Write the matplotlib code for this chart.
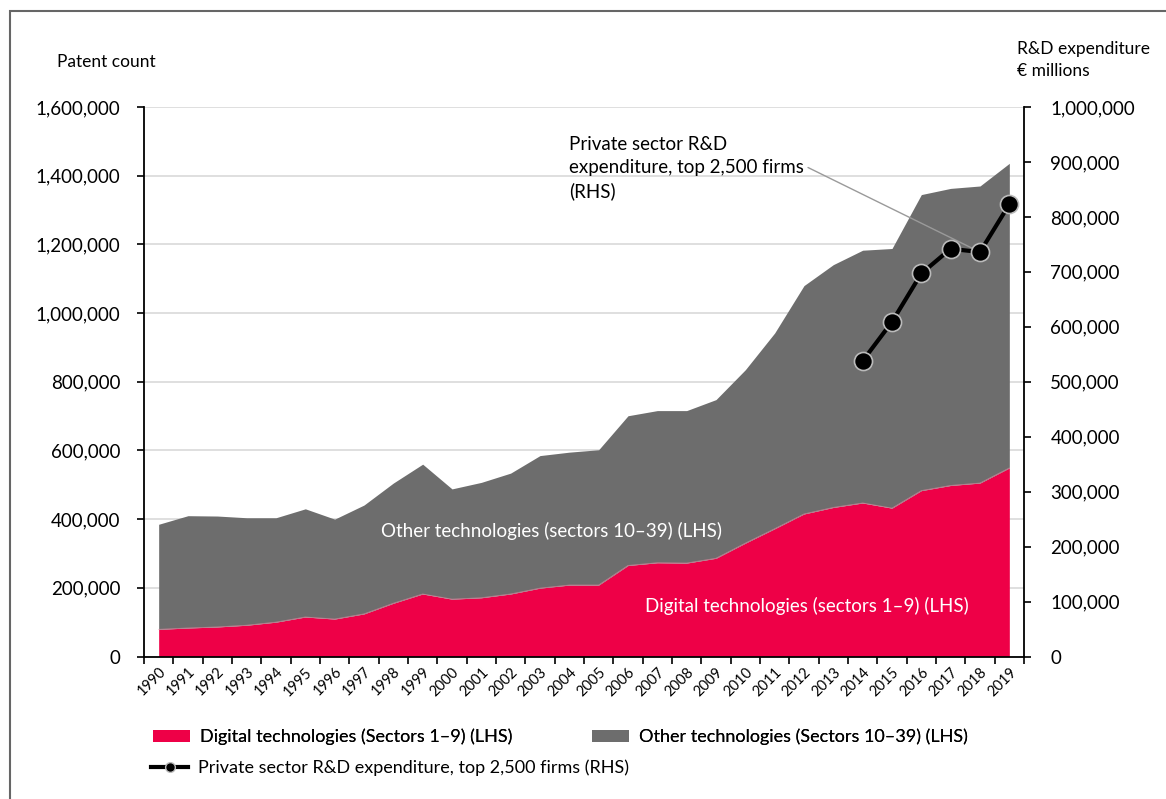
import matplotlib
matplotlib.use("Agg")
import matplotlib.pyplot as plt
from matplotlib.patches import Rectangle, Patch
from matplotlib.lines import Line2D
from matplotlib.ticker import FuncFormatter

plt.rcParams['font.family'] = ['Lato', 'DejaVu Sans']

years = list(range(1990, 2020))
digital = [79000, 83000, 86000, 91000, 100000, 115000, 109000, 124000, 155000, 182000,
           167000, 171000, 182000, 199000, 208000, 208000, 265000, 273000, 272000, 286000,
           330000, 372000, 415000, 434000, 447000, 432000, 483000, 498000, 505000, 549000]
total = [385000, 410000, 409000, 404000, 404000, 430000, 400000, 441000, 505000, 560000,
         488000, 507000, 534000, 585000, 595000, 602000, 701000, 716000, 716000, 748000,
         835000, 942000, 1080000, 1141000, 1183000, 1188000, 1345000, 1363000, 1370000, 1436000]
rd_years = [2014, 2015, 2016, 2017, 2018, 2019]
rd_exp = [538000, 609000, 697000, 742000, 736000, 823000]

RED = '#ee0047'
GREY = '#6d6d6d'

W, H = 1166, 799
fig = plt.figure(figsize=(W / 100, H / 100), dpi=100)
ax = fig.add_axes([144 / W, 1 - 656.5 / H, (1024 - 144) / W, (656.5 - 107) / H])

x = list(range(len(years)))
ax.fill_between(x, 0, digital, color=RED, lw=0, zorder=2)
ax.fill_between(x, digital, total, color=GREY, lw=0, zorder=2)
ax.plot(x, digital, color='#f08aa5', lw=0.6, zorder=3, alpha=0.6)

ax.set_xlim(-0.5, len(years) - 0.5)
ax.set_ylim(0, 1600000)
ax.set_yticks(range(0, 1600001, 200000))
ax.yaxis.set_major_formatter(FuncFormatter(lambda v, p: f"{int(v):,}"))
ax.grid(axis='y', color='#d9d9d9', lw=1.2, zorder=0)
ax.set_axisbelow(True)
ax.set_xticks([i for i in x])
ax.set_xticklabels([str(y) for y in years], rotation=45, ha='right', va='top',
                   rotation_mode='anchor', fontsize=10.5)
ax.set_xticks([i - 0.5 for i in range(len(years) + 1)], minor=True)
ax.tick_params(axis='x', which='major', length=0, pad=6)
ax.tick_params(axis='x', which='minor', length=5, width=1.2, direction='out')
ax.tick_params(axis='y', length=5, width=1.2, direction='out', labelsize=13.5, pad=12)
ax.spines['top'].set_visible(False)
ax.spines['right'].set_visible(False)
ax.spines['left'].set_linewidth(1.3)
ax.spines['bottom'].set_linewidth(1.3)

ax2 = ax.twinx()
ax2.set_ylim(0, 1000000)
ax2.set_yticks(range(0, 1000001, 100000))
ax2.yaxis.set_major_formatter(FuncFormatter(lambda v, p: f"{int(v):,}"))
ax2.tick_params(axis='y', length=5, width=1.2, direction='out', labelsize=13.5, pad=14)
ax2.spines['top'].set_visible(False)
ax2.spines['left'].set_visible(False)
ax2.spines['bottom'].set_visible(False)
ax2.spines['right'].set_linewidth(1.3)
rx = [years.index(y) for y in rd_years]
ax2.plot(rx, rd_exp, color='black', lw=3, marker='o', markersize=13,
         markerfacecolor='black', markeredgecolor='#bbbbbb', markeredgewidth=1.2, zorder=5)

# inner labels
ax.text(13.38, 366000, 'Other technologies (sectors 10\u201339) (LHS)',
        color='white', fontsize=13.5, ha='center', va='center', zorder=4)
ax.text(22.1, 147000, 'Digital technologies (sectors 1\u20139) (LHS)',
        color='white', fontsize=13.5, ha='center', va='center', zorder=4)

# annotation
fig.text(569 / W, 1 - 168 / H, 'Private sector R&D\nexpenditure, top 2,500 firms\n(RHS)',
         fontsize=13.5, ha='left', va='center', linespacing=1.45)
ax2.annotate('', xy=(years.index(2018), rd_exp[4]), xycoords='data',
             xytext=(808 / W, 1 - 167.5 / H), textcoords='figure fraction',
             arrowprops=dict(arrowstyle='-', color='#9a9a9a', lw=1, shrinkA=0, shrinkB=0),
             zorder=4)

# axis titles
fig.text(57 / W, 1 - 62 / H, 'Patent count', fontsize=12.5, ha='left', va='center')
fig.text(1017 / W, 1 - 60 / H, 'R&D expenditure\n\u20ac millions', fontsize=12.5, ha='left',
         va='center', linespacing=1.45)

# legend
leg_kw = dict(frameon=False, fontsize=13, handlelength=2.05, handletextpad=0.55,
              borderaxespad=0, borderpad=0, loc='center left')
l1 = fig.legend([Patch(facecolor=RED, edgecolor='none')],
                ['Digital technologies (Sectors 1\u20139) (LHS)'],
                bbox_to_anchor=(153 / W, 1 - 737 / H), handleheight=0.6, **leg_kw)
fig.add_artist(l1)
l2 = fig.legend([Patch(facecolor=GREY, edgecolor='none')],
                ['Other technologies (Sectors 10\u201339) (LHS)'],
                bbox_to_anchor=(592 / W, 1 - 737 / H), handleheight=0.6, **leg_kw)
fig.add_artist(l2)
h3 = [Line2D([0], [0], color='black', lw=3, marker='o', markersize=7,
             markerfacecolor='black', markeredgecolor='#bbbbbb')]
fig.legend(h3, ['Private sector R&D expenditure, top 2,500 firms (RHS)'],
           bbox_to_anchor=(151 / W, 1 - 768 / H), **leg_kw)

# frame border
fig.add_artist(Rectangle((10 / W, -0.1), 1.2, 1 - 11 / H + 0.1, transform=fig.transFigure,
                         fill=False, edgecolor='#666666', lw=1.5))

fig.savefig('out.png', dpi=100)
